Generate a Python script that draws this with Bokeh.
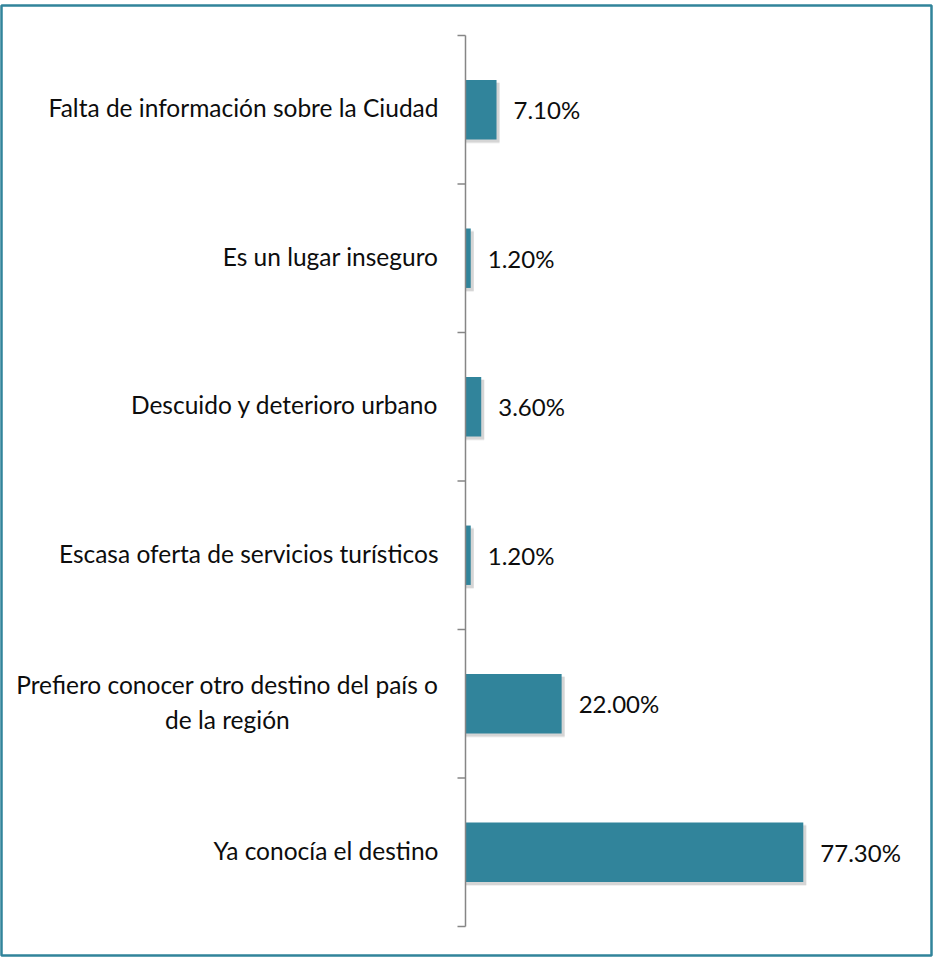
from bokeh.plotting import figure
from bokeh.models import ColumnDataSource, Range1d
from bokeh.core.properties import value
from bokeh.embed import file_html
from bokeh.resources import INLINE

# ---- data (bottom to top) ----
categories = [
    "Ya conocía el destino",
    "Prefiero conocer otro destino del país o\nde la región",
    "Escasa oferta de servicios turísticos",
    "Descuido y deterioro urbano",
    "Es un lugar inseguro",
    "Falta de información sobre la Ciudad",
]
values = [77.3, 22.0, 1.2, 3.6, 1.2, 7.1]
value_labels = [f"{v:.2f}%" for v in values]

W, H = 933, 958
MB_L, MB_R, MB_T, MB_B = 1, 2, 5, 3
FW, FH = W - MB_L - MB_R, H - MB_T - MB_B
x_start, x_end = -106.18, 106.64
y_start, y_end = -0.1953, 6.202
px_x = FW / (x_end - x_start)
px_y = FH / (y_end - y_start)

BAR = "#31849B"
FONT = "Lato"

p = figure(width=W, height=H, output_backend="svg", toolbar_location=None,
           x_range=Range1d(x_start, x_end), y_range=Range1d(y_start, y_end),
           x_axis_type=None, y_axis_type=None,
           min_border_left=MB_L, min_border_right=MB_R,
           min_border_top=MB_T, min_border_bottom=MB_B,
           background_fill_color="white", border_fill_color="white")
p.grid.visible = False
p.outline_line_color = BAR
p.outline_line_width = 2.5

n = len(categories)
centers = [i + 0.5 for i in range(n)]
src = ColumnDataSource(dict(y=centers, v=values, cat=categories, lab=value_labels,
                            ysh=[c - 3 / px_y for c in centers],
                            vsh=[v + 3 / px_x for v in values]))

# shadow
p.hbar(y="ysh", left=0, right="vsh", height=0.4, source=src,
       fill_color="#9a9a9a", fill_alpha=0.35, line_color=None)
p.hbar(y="ysh", left=0, right="vsh", height=0.4 + 2 / px_y, source=src,
       fill_color="#bbbbbb", fill_alpha=0.2, line_color=None)
# bars
p.hbar(y="y", left=0, right="v", height=0.4, source=src,
       fill_color=BAR, line_color=None)

# axis line and ticks
p.segment(x0=[0], y0=[0], x1=[0], y1=[n], line_color="#868686", line_width=1.5)
ticks = list(range(n + 1))
p.segment(x0=[-8 / px_x] * len(ticks), y0=ticks, x1=[0] * len(ticks), y1=ticks,
          line_color="#868686", line_width=1.5)

# category labels
p.text(x=0, y="y", text="cat", source=src, x_offset=-27, y_offset=-2,
       text_align="center", anchor="center_right", text_baseline="middle",
       text_font=value(FONT), text_font_size="24.5px", text_color="#0d0d0d",
       text_line_height=1.2)

# value labels
p.text(x="v", y="y", text="lab", source=src, x_offset=17,
       text_align="left", text_baseline="middle",
       text_font=value(FONT), text_font_size="24px", text_color="#0d0d0d")

open("out.html", "w").write(file_html(p, INLINE))
